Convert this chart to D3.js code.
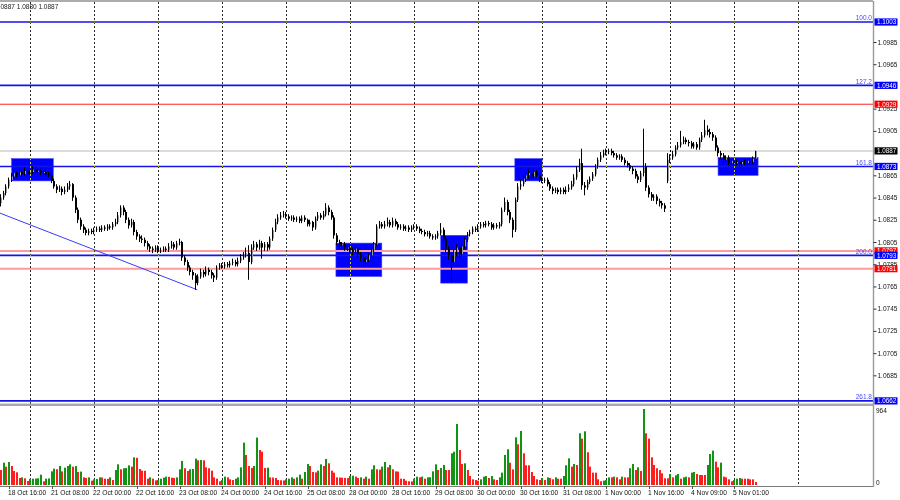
<!DOCTYPE html>
<html><head><meta charset="utf-8">
<script src="https://cdn.jsdelivr.net/npm/d3@7"></script>
<style>
body{margin:0;background:#fff}
svg{display:block}
text{font-family:"Liberation Sans",Arial,sans-serif}
</style>
</head><body>
<svg id="c" width="900" height="500"></svg>
<script>
// ---------- DATA (EURUSD H1, 18 Oct 13:00 .. 5 Nov) ----------
const opens = [
1.0840,1.0845,1.0849,1.0855,1.0861,1.0864,1.0867,1.0865,1.0868,1.0866,
1.0869,1.0867,1.0868,1.0870,1.0868,1.0869,1.0867,1.0868,1.0866,1.0865,
1.0860,1.0855,1.0852,1.0853,1.0850,1.0852,1.0855,1.0857,1.0845,1.0834,
1.0825,1.0819,1.0816,1.0813,1.0815,1.0814,1.0816,1.0817,1.0816,1.0818,
1.0817,1.0819,1.0818,1.0821,1.0823,1.0829,1.0836,1.0832,1.0825,1.0820,
1.0823,1.0814,1.0810,1.0808,1.0807,1.0804,1.0801,1.0799,1.0798,1.0800,
1.0797,1.0798,1.0799,1.0798,1.0801,1.0803,1.0800,1.0804,1.0805,1.0791,
1.0787,1.0782,1.0778,1.0775,1.0768,1.0774,1.0778,1.0776,1.0780,1.0778,
1.0775,1.0773,1.0782,1.0784,1.0783,1.0785,1.0784,1.0786,1.0787,1.0785,
1.0788,1.0791,1.0793,1.0795,1.0787,1.0800,1.0803,1.0800,1.0804,1.0800,
1.0803,1.0800,1.0808,1.0816,1.0823,1.0827,1.0829,1.0830,1.0828,1.0826,
1.0827,1.0825,1.0826,1.0824,1.0827,1.0825,1.0821,1.0823,1.0818,1.0826,
1.0829,1.0827,1.0830,1.0836,1.0832,1.0827,1.0811,1.0805,1.0802,1.0803,
1.0800,1.0800,1.0798,1.0796,1.0799,1.0794,1.0791,1.0787,1.0789,1.0793,
1.0798,1.0803,1.0819,1.0821,1.0819,1.0821,1.0823,1.0820,1.0824,1.0821,
1.0818,1.0819,1.0817,1.0818,1.0816,1.0818,1.0819,1.0817,1.0815,1.0814,
1.0812,1.0813,1.0810,1.0809,1.0810,1.0813,1.0816,1.0808,1.0799,1.0793,
1.0787,1.0796,1.0800,1.0794,1.0801,1.0807,1.0812,1.0814,1.0817,1.0816,
1.0819,1.0821,1.0820,1.0822,1.0821,1.0818,1.0820,1.0819,1.0821,1.0834,
1.0841,1.0832,1.0825,1.0816,1.0843,1.0855,1.0857,1.0862,1.0865,1.0867,
1.0864,1.0868,1.0865,1.0861,1.0860,1.0861,1.0857,1.0853,1.0851,1.0852,
1.0850,1.0852,1.0850,1.0852,1.0854,1.0857,1.0863,1.0870,1.0876,1.0856,
1.0854,1.0859,1.0862,1.0866,1.0873,1.0879,1.0883,1.0885,1.0886,1.0887,
1.0885,1.0883,1.0881,1.0882,1.0879,1.0876,1.0874,1.0871,1.0869,1.0864,
1.0861,1.0867,1.0873,1.0854,1.0848,1.0845,1.0846,1.0842,1.0840,1.0838,
1.0860,1.0879,1.0881,1.0884,1.0890,1.0892,1.0895,1.0897,1.0895,1.0894,
1.0891,1.0893,1.0890,1.0897,1.0901,1.0906,1.0904,1.0902,1.0899,1.0890,
1.0885,1.0883,1.0879,1.0881,1.0876,1.0878,1.0876,1.0877,1.0875,1.0877,
1.0876,1.0878,1.0877,1.0880];
const highs = [
1.0848,1.0851,1.0857,1.0863,1.0867,1.0870,1.0869,1.0871,1.0870,1.0872,
1.0870,1.0870,1.0873,1.0872,1.0871,1.0871,1.0870,1.0870,1.0868,1.0866,
1.0862,1.0857,1.0856,1.0855,1.0855,1.0858,1.0860,1.0858,1.0847,1.0836,
1.0827,1.0821,1.0818,1.0817,1.0817,1.0818,1.0819,1.0819,1.0820,1.0820,
1.0821,1.0821,1.0823,1.0826,1.0832,1.0838,1.0838,1.0834,1.0827,1.0826,
1.0825,1.0816,1.0812,1.0811,1.0809,1.0806,1.0803,1.0801,1.0802,1.0802,
1.0800,1.0801,1.0801,1.0804,1.0806,1.0805,1.0806,1.0808,1.0806,1.0793,
1.0789,1.0784,1.0780,1.0777,1.0776,1.0781,1.0780,1.0783,1.0782,1.0780,
1.0777,1.0784,1.0786,1.0786,1.0787,1.0787,1.0788,1.0790,1.0789,1.0791,
1.0794,1.0796,1.0800,1.0802,1.0803,1.0806,1.0805,1.0807,1.0806,1.0805,
1.0805,1.0810,1.0818,1.0826,1.0830,1.0832,1.0833,1.0832,1.0830,1.0829,
1.0829,1.0828,1.0828,1.0829,1.0829,1.0826,1.0825,1.0824,1.0828,1.0832,
1.0831,1.0833,1.0840,1.0838,1.0834,1.0829,1.0813,1.0807,1.0805,1.0805,
1.0802,1.0802,1.0800,1.0801,1.0800,1.0796,1.0793,1.0791,1.0795,1.0800,
1.0805,1.0821,1.0824,1.0823,1.0824,1.0827,1.0825,1.0827,1.0826,1.0823,
1.0821,1.0821,1.0820,1.0820,1.0820,1.0821,1.0821,1.0819,1.0817,1.0816,
1.0815,1.0815,1.0812,1.0812,1.0815,1.0822,1.0818,1.0810,1.0801,1.0796,
1.0798,1.0803,1.0802,1.0804,1.0809,1.0814,1.0816,1.0819,1.0819,1.0821,
1.0823,1.0823,1.0824,1.0824,1.0823,1.0822,1.0822,1.0823,1.0836,1.0845,
1.0843,1.0834,1.0827,1.0845,1.0858,1.0861,1.0865,1.0868,1.0871,1.0869,
1.0871,1.0870,1.0867,1.0863,1.0863,1.0863,1.0859,1.0855,1.0854,1.0854,
1.0854,1.0854,1.0855,1.0857,1.0860,1.0866,1.0873,1.0880,1.0889,1.0859,
1.0861,1.0864,1.0868,1.0875,1.0881,1.0886,1.0888,1.0889,1.0889,1.0889,
1.0887,1.0885,1.0884,1.0884,1.0881,1.0878,1.0876,1.0873,1.0871,1.0866,
1.0869,1.0907,1.0876,1.0856,1.0850,1.0848,1.0848,1.0844,1.0842,1.0840,
1.0885,1.0884,1.0887,1.0892,1.0895,1.0905,1.0900,1.0899,1.0897,1.0896,
1.0895,1.0895,1.0899,1.0904,1.0915,1.0910,1.0907,1.0904,1.0901,1.0892,
1.0887,1.0885,1.0883,1.0883,1.0880,1.0880,1.0879,1.0879,1.0879,1.0879,
1.0880,1.0880,1.0882,1.0887];
const lows = [
1.0837,1.0843,1.0847,1.0853,1.0859,1.0862,1.0863,1.0864,1.0864,1.0865,
1.0865,1.0865,1.0866,1.0866,1.0866,1.0865,1.0865,1.0864,1.0863,1.0858,
1.0853,1.0849,1.0850,1.0847,1.0848,1.0850,1.0852,1.0842,1.0831,1.0822,
1.0816,1.0813,1.0811,1.0811,1.0812,1.0812,1.0814,1.0814,1.0814,1.0815,
1.0815,1.0816,1.0816,1.0819,1.0821,1.0827,1.0829,1.0822,1.0817,1.0818,
1.0811,1.0807,1.0805,1.0804,1.0801,1.0798,1.0796,1.0795,1.0796,1.0795,
1.0795,1.0796,1.0796,1.0796,1.0799,1.0798,1.0798,1.0802,1.0788,1.0784,
1.0779,1.0775,1.0771,1.0762,1.0766,1.0772,1.0773,1.0774,1.0775,1.0772,
1.0769,1.0771,1.0780,1.0781,1.0781,1.0782,1.0782,1.0784,1.0783,1.0783,
1.0786,1.0789,1.0791,1.0771,1.0785,1.0798,1.0797,1.0798,1.0790,1.0797,
1.0797,1.0798,1.0806,1.0814,1.0821,1.0825,1.0827,1.0826,1.0824,1.0824,
1.0823,1.0823,1.0822,1.0822,1.0823,1.0819,1.0819,1.0815,1.0816,1.0824,
1.0825,1.0825,1.0828,1.0829,1.0825,1.0808,1.0802,1.0799,1.0800,1.0797,
1.0797,1.0795,1.0793,1.0794,1.0791,1.0788,1.0783,1.0784,1.0787,1.0791,
1.0796,1.0801,1.0817,1.0817,1.0817,1.0819,1.0818,1.0818,1.0819,1.0816,
1.0816,1.0815,1.0815,1.0814,1.0814,1.0816,1.0815,1.0813,1.0812,1.0810,
1.0810,1.0808,1.0807,1.0807,1.0808,1.0811,1.0805,1.0796,1.0789,1.0769,
1.0784,1.0792,1.0791,1.0792,1.0799,1.0805,1.0810,1.0812,1.0814,1.0814,
1.0817,1.0818,1.0818,1.0819,1.0816,1.0816,1.0817,1.0817,1.0819,1.0832,
1.0829,1.0822,1.0809,1.0814,1.0841,1.0852,1.0855,1.0859,1.0862,1.0861,
1.0862,1.0863,1.0859,1.0858,1.0858,1.0855,1.0851,1.0848,1.0849,1.0848,
1.0848,1.0848,1.0848,1.0850,1.0852,1.0855,1.0861,1.0868,1.0852,1.0847,
1.0852,1.0857,1.0860,1.0864,1.0871,1.0877,1.0881,1.0883,1.0884,1.0883,
1.0881,1.0879,1.0879,1.0877,1.0874,1.0872,1.0869,1.0866,1.0862,1.0858,
1.0859,1.0864,1.0851,1.0845,1.0842,1.0842,1.0839,1.0837,1.0835,1.0832,
1.0858,1.0876,1.0879,1.0882,1.0888,1.0890,1.0893,1.0893,1.0891,1.0889,
1.0889,1.0888,1.0888,1.0895,1.0899,1.0901,1.0899,1.0896,1.0887,1.0882,
1.0880,1.0876,1.0877,1.0874,1.0874,1.0874,1.0874,1.0873,1.0873,1.0874,
1.0874,1.0875,1.0875,1.0880];
const closes = [
1.0845,1.0849,1.0855,1.0861,1.0864,1.0867,1.0865,1.0868,1.0866,1.0869,
1.0867,1.0868,1.0870,1.0868,1.0869,1.0867,1.0868,1.0866,1.0865,1.0860,
1.0855,1.0852,1.0853,1.0850,1.0852,1.0855,1.0857,1.0845,1.0834,1.0825,
1.0819,1.0816,1.0813,1.0815,1.0814,1.0816,1.0817,1.0816,1.0818,1.0817,
1.0819,1.0818,1.0821,1.0823,1.0829,1.0836,1.0832,1.0825,1.0820,1.0823,
1.0814,1.0810,1.0808,1.0807,1.0804,1.0801,1.0799,1.0798,1.0800,1.0797,
1.0798,1.0799,1.0798,1.0801,1.0803,1.0800,1.0804,1.0805,1.0791,1.0787,
1.0782,1.0778,1.0775,1.0768,1.0774,1.0778,1.0776,1.0780,1.0778,1.0775,
1.0773,1.0782,1.0784,1.0783,1.0785,1.0784,1.0786,1.0787,1.0785,1.0788,
1.0791,1.0793,1.0795,1.0787,1.0800,1.0803,1.0800,1.0804,1.0800,1.0803,
1.0800,1.0808,1.0816,1.0823,1.0827,1.0829,1.0830,1.0828,1.0826,1.0827,
1.0825,1.0826,1.0824,1.0827,1.0825,1.0821,1.0823,1.0818,1.0826,1.0829,
1.0827,1.0830,1.0836,1.0832,1.0827,1.0811,1.0805,1.0802,1.0803,1.0800,
1.0800,1.0798,1.0796,1.0799,1.0794,1.0791,1.0787,1.0789,1.0793,1.0798,
1.0803,1.0819,1.0821,1.0819,1.0821,1.0823,1.0820,1.0824,1.0821,1.0818,
1.0819,1.0817,1.0818,1.0816,1.0818,1.0819,1.0817,1.0815,1.0814,1.0812,
1.0813,1.0810,1.0809,1.0810,1.0813,1.0816,1.0808,1.0799,1.0793,1.0787,
1.0796,1.0800,1.0794,1.0801,1.0807,1.0812,1.0814,1.0817,1.0816,1.0819,
1.0821,1.0820,1.0822,1.0821,1.0818,1.0820,1.0819,1.0821,1.0834,1.0841,
1.0832,1.0825,1.0816,1.0843,1.0855,1.0857,1.0862,1.0865,1.0867,1.0864,
1.0868,1.0865,1.0861,1.0860,1.0861,1.0857,1.0853,1.0851,1.0852,1.0850,
1.0852,1.0850,1.0852,1.0854,1.0857,1.0863,1.0870,1.0876,1.0856,1.0854,
1.0859,1.0862,1.0866,1.0873,1.0879,1.0883,1.0885,1.0886,1.0887,1.0885,
1.0883,1.0881,1.0882,1.0879,1.0876,1.0874,1.0871,1.0869,1.0864,1.0861,
1.0867,1.0873,1.0854,1.0848,1.0845,1.0846,1.0842,1.0840,1.0838,1.0835,
1.0879,1.0881,1.0884,1.0890,1.0892,1.0895,1.0897,1.0895,1.0894,1.0891,
1.0893,1.0890,1.0897,1.0901,1.0906,1.0904,1.0902,1.0899,1.0890,1.0885,
1.0883,1.0879,1.0881,1.0876,1.0878,1.0876,1.0877,1.0875,1.0877,1.0876,
1.0878,1.0877,1.0880,1.0887];
const volumes = [
190,283,233,292,241,178,161,89,97,85,
51,76,80,82,85,131,47,80,84,173,
207,200,241,173,220,241,262,233,240,165,
170,97,89,97,55,72,76,97,95,80,
78,97,63,190,262,199,212,215,250,233,
351,345,203,182,180,80,97,80,59,63,
80,93,106,104,93,89,97,199,305,212,
178,199,203,334,313,317,313,224,212,182,
97,80,47,63,106,97,72,63,80,97,
224,537,381,241,216,241,601,444,423,216,
220,97,95,89,63,60,58,72,80,97,
80,97,131,80,165,266,241,165,160,182,
262,241,330,275,182,157,97,95,93,90,
88,114,118,106,89,97,80,106,80,199,
250,199,195,233,292,224,254,199,173,170,
80,78,55,47,45,80,106,97,106,80,
97,99,173,262,190,216,254,190,190,
402,423,774,444,266,275,190,114,72,63,
55,72,106,114,89,114,72,63,97,157,
381,453,283,199,605,516,685,402,250,250,
165,114,72,63,89,63,97,89,72,97,
80,80,114,250,338,233,266,254,656,588,
681,415,233,157,157,72,47,55,63,97,
97,106,97,72,106,97,97,212,266,190,
224,178,964,656,588,351,254,212,190,148,
85,85,140,97,123,140,80,97,106,97,
157,165,140,127,127,127,254,393,436,296,
224,283,106,97,72,47,63,80,89,80,
80,80,72,72,38];

const dateTickIdx = [3,19,35,51,67,83,99,115,131,147,163,179,195,211,227,243,259,275];
const dateTickText = ["18 Oct 16:00","21 Oct 08:00","22 Oct 00:00","22 Oct 16:00","23 Oct 08:00",
  "24 Oct 00:00","24 Oct 16:00","25 Oct 08:00","28 Oct 00:00","28 Oct 16:00","29 Oct 08:00",
  "30 Oct 00:00","30 Oct 16:00","31 Oct 08:00","1 Nov 00:00","1 Nov 16:00","4 Nov 09:00","5 Nov 01:00"];
const gridIdx = [11,35,59,83,107,131,155,179,203,227,251,275,299];
// visible price-scale labels (those hidden under the level boxes are left out)
const priceTicks = [1.0685,1.0705,1.0725,1.0745,1.0765,1.0785,1.0805,1.0825,1.0845,
  1.0865,1.0905,1.0925,1.0965,1.0985];
const volTicks = [0, 964];

const levelPrice = [1.1003, 1.0946, 1.0929, 1.0887, 1.0873, 1.0797, 1.0793, 1.0781, 1.0662];
const levelKind  = ["fib","fib","red","bid","fib","pink","fib","pink","fib"];
const levelFibo  = ["100.0","127.2","","","161.8","","200.0","","261.8"];

const zoneStart  = [4.0, 125.6, 164.9, 192.7, 268.9];
const zoneEnd    = [19.6, 142.8, 174.9, 202.9, 283.9];
const zoneTop    = [1.0880, 1.0804, 1.0811, 1.0880, 1.0881];
const zoneBottom = [1.0860, 1.0774, 1.0768, 1.0860, 1.0865];

const trendIdx   = [-0.4, 73.6];
const trendPrice = [1.0831, 1.0762];

const headerText = "0887 1.0880 1.0887";

// ---------- DRAW ----------
const svg = d3.select("#c");
const W = 900, plotR = 873;
const x = d3.scaleLinear().domain([0, 327]).range([1, 873]);
const y = d3.scaleLinear().domain([1.06610, 1.10228]).range([402, 0]);
const yv = d3.scaleLinear().domain([0, 964]).range([485, 409]);
const rx = i => Math.round(x(i));

svg.append("rect").attr("width", W).attr("height", 500).attr("fill", "#fff");

svg.append("defs").append("clipPath").attr("id","pc")
  .append("rect").attr("x",0).attr("y",1).attr("width",plotR).attr("height",401);

// zones (behind)
const zones = d3.range(zoneStart.length);
svg.append("g").attr("clip-path","url(#pc)").selectAll("rect").data(zones).join("rect")
  .attr("x", i => x(zoneStart[i])).attr("width", i => x(zoneEnd[i]) - x(zoneStart[i]))
  .attr("y", i => y(zoneTop[i])).attr("height", i => y(zoneBottom[i]) - y(zoneTop[i]))
  .attr("fill", "#0000ff").attr("stroke","#3b3bff").attr("stroke-width",0.6);

// horizontal levels
const lvStyle = {
  fib:  {c:"#1414e6", w:1.6},
  red:  {c:"#ff2020", w:1},
  pink: {c:"#ff9a9a", w:2},
  bid:  {c:"#dcdcdc", w:2}
};
const lv = d3.range(levelPrice.length);
svg.append("g").selectAll("line").data(lv).join("line")
  .attr("x1", 0).attr("x2", plotR)
  .attr("y1", i => y(levelPrice[i])).attr("y2", i => y(levelPrice[i]))
  .attr("stroke", i => lvStyle[levelKind[i]].c)
  .attr("stroke-width", i => lvStyle[levelKind[i]].w);

// trend line
svg.append("g").attr("clip-path","url(#pc)").append("line")
  .attr("x1", x(trendIdx[0])).attr("y1", y(trendPrice[0]))
  .attr("x2", x(trendIdx[1])).attr("y2", y(trendPrice[1]))
  .attr("stroke", "#3a3aff").attr("stroke-width", 1);

// grid (inverting dashed lines)
svg.append("g").selectAll("line").data(gridIdx).join("line")
  .attr("x1", d => rx(d) + 0.5).attr("x2", d => rx(d) + 0.5)
  .attr("y1", 2).attr("y2", 486)
  .attr("stroke", "#d4d4d4").attr("stroke-dasharray", "2,2")
  .style("mix-blend-mode", "difference");

// candles: bodies then wicks on top
const idx = d3.range(closes.length);
const cg = svg.append("g");
cg.selectAll("rect").data(idx).join("rect")
  .attr("x", i => rx(i) - 1).attr("width", 2)
  .attr("y", i => y(Math.max(opens[i], closes[i])))
  .attr("height", i => Math.max(1, Math.abs(y(opens[i]) - y(closes[i]))))
  .attr("fill", i => closes[i] >= opens[i] ? "#9c9c9c" : "#000");
cg.selectAll("line").data(idx).join("line")
  .attr("x1", i => rx(i) - 0.5).attr("x2", i => rx(i) - 0.5)
  .attr("y1", i => y(highs[i])).attr("y2", i => y(lows[i]))
  .attr("stroke", "#000").attr("stroke-width", 1);

// fibo labels
svg.append("g").selectAll("text").data(lv.filter(i => levelFibo[i])).join("text")
  .attr("x", 872).attr("y", i => y(levelPrice[i]) - 1.8)
  .attr("text-anchor", "end").attr("font-size", "6.5px").attr("fill", "#4b4bff")
  .text(i => levelFibo[i]);

// separator between panels
svg.append("rect").attr("x", 0).attr("y", 403.6).attr("width", plotR).attr("height", 2.4).attr("fill", "#a9a9a9");

// volume bars (green when volume rises vs previous bar)
svg.append("g").selectAll("rect").data(idx).join("rect")
  .attr("x", i => rx(i) - 1).attr("width", 2)
  .attr("y", i => yv(volumes[i])).attr("height", i => yv(0) - yv(volumes[i]))
  .attr("fill", i => (i > 0 && volumes[i] > volumes[i-1]) ? "#139313" : "#ff1e1e");

// frame lines
svg.append("line").attr("x1",0).attr("x2",plotR).attr("y1",1).attr("y2",1).attr("stroke","#5a5a5a").attr("stroke-width",1.2);
svg.append("line").attr("x1",0).attr("x2",plotR+1).attr("y1",486.5).attr("y2",486.5).attr("stroke","#7a7a7a").attr("stroke-width",1.2);
svg.append("line").attr("x1",plotR+0.5).attr("x2",plotR+0.5).attr("y1",1).attr("y2",487).attr("stroke","#9a9a9a").attr("stroke-width",1.4);

// right price axis
const pAxis = d3.axisRight(y).tickValues(priceTicks).tickSize(3).tickFormat(d3.format(".4f"));
const pa = svg.append("g").attr("transform", `translate(${plotR+0.5},0)`).call(pAxis);
pa.select(".domain").remove();
pa.selectAll("line").attr("stroke", "#333");
pa.selectAll("text").attr("x", 4).attr("font-size", "6.5px").attr("fill", "#111")
  .attr("font-family", "'Liberation Sans',Arial,sans-serif");

// level price boxes
const boxFill = {fib:"#0000ff", red:"#ff0000", pink:"#ff0000", bid:"#000000"};
const lb = svg.append("g").selectAll("g").data(lv).join("g")
  .attr("transform", i => `translate(874.5,${y(levelPrice[i])})`);
lb.append("rect").attr("x", 0).attr("y", -3.6).attr("width", 23).attr("height", 7.2)
  .attr("fill", i => boxFill[levelKind[i]]);
lb.append("text").attr("x", 2.5).attr("y", 2.3).attr("font-size", "6.3px").attr("fill", "#fff")
  .text(i => d3.format(".4f")(levelPrice[i]));

// volume axis
svg.append("g").selectAll("text").data(volTicks).join("text")
  .attr("x", 876).attr("y", d => yv(d) + (d === 0 ? -0.5 : 3.5))
  .attr("font-size", "6.5px").attr("fill", "#111").text(d => d);

// bottom time axis
const tg = svg.append("g");
tg.selectAll("line").data(dateTickIdx).join("line")
  .attr("x1", d => rx(d) + 0.5).attr("x2", d => rx(d) + 0.5).attr("y1", 486).attr("y2", 489)
  .attr("stroke", "#555");
tg.selectAll("text").data(dateTickIdx).join("text")
  .attr("x", d => rx(d) - 1).attr("y", 495).attr("font-size", "6.7px").attr("fill", "#111")
  .text((d, k) => dateTickText[k]);

// header
svg.append("text").attr("x", 0.5).attr("y", 8.5).attr("font-size", "6.5px").attr("fill", "#222").text(headerText);
</script>
</body></html>
